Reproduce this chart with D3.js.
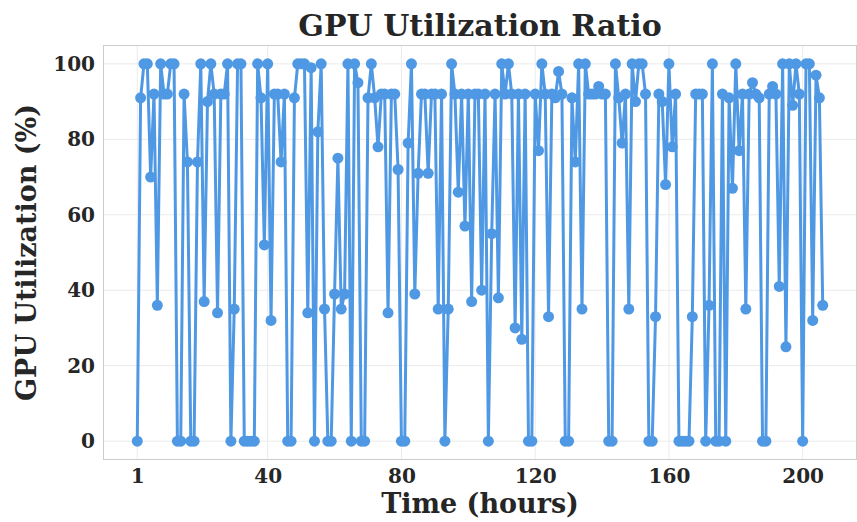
<!DOCTYPE html>
<html>
<head>
<meta charset="utf-8">
<script src="https://cdn.jsdelivr.net/npm/d3@7"></script>
<style>
  body { margin: 0; background: #fff; }
  text { font-family: "DejaVu Serif", serif; font-weight: bold; fill: #262626; }
</style>
</head>
<body>
<div id="chart"></div>
<script>
// hours 1..N, one reading per hour
var utilization = [
  0, 91, 100, 100, 70, 92, 36, 100, 92, 92, 100, 100, 0, 0, 92, 74, 0, 0, 74, 100,
  37, 90, 100, 92, 34, 92, 92, 100, 0, 35, 100, 100, 0, 0, 0, 0, 100, 91, 52, 100,
  32, 92, 92, 74, 92, 0, 0, 91, 100, 100, 100, 34, 99, 0, 82, 100, 35, 0, 0, 39,
  75, 35, 39, 100, 0, 100, 95, 0, 0, 91, 100, 91, 78, 92, 92, 34, 92, 92, 72, 0,
  0, 79, 100, 39, 71, 92, 92, 71, 92, 92, 35, 92, 0, 35, 100, 92, 66, 92, 57, 92,
  37, 92, 92, 40, 92, 0, 55, 92, 38, 100, 92, 100, 92, 30, 92, 27, 92, 0, 0, 92,
  77, 100, 92, 33, 92, 91, 98, 92, 0, 0, 91, 74, 100, 35, 100, 92, 92, 92, 94, 92,
  92, 0, 0, 100, 91, 79, 92, 35, 100, 90, 100, 100, 92, 0, 0, 33, 92, 90, 68, 100,
  78, 92, 0, 0, 0, 0, 33, 92, 92, 92, 0, 36, 100, 0, 0, 92, 0, 91, 67, 100,
  77, 92, 35, 92, 95, 92, 91, 0, 0, 92, 94, 92, 41, 100, 25, 100, 89, 100, 92, 0,
  100, 100, 32, 97, 91, 36
];
var hours = utilization.map(function(d, i) { return i + 1; });
var xTicks = [1, 40, 80, 120, 160, 200];
var yTicks = [0, 20, 40, 60, 80, 100];

var W = 857, H = 522;
var margin = { top: 45, right: 0, bottom: 62, left: 103 };
var x0 = margin.left, x1 = W - margin.right, y0 = H - margin.bottom, y1 = margin.top;

var svg = d3.select("#chart").append("svg")
  .attr("width", W).attr("height", H);

var n = hours.length;
var pad = 0.05 * (n - 1);
var x = d3.scaleLinear().domain([1 - pad, n + pad]).range([x0, x1]);
var y = d3.scaleLinear().domain([-5, 105]).range([y0, y1]);

// grid
svg.append("g").selectAll("line.gx").data(xTicks).enter().append("line")
  .attr("x1", function(d) { return x(d); }).attr("x2", function(d) { return x(d); })
  .attr("y1", y1).attr("y2", y0)
  .attr("stroke", "#ebebeb").attr("stroke-width", 1);
svg.append("g").selectAll("line.gy").data(yTicks).enter().append("line")
  .attr("x1", x0).attr("x2", x1)
  .attr("y1", function(d) { return y(d); }).attr("y2", function(d) { return y(d); })
  .attr("stroke", "#ebebeb").attr("stroke-width", 1);

// frame
svg.append("rect")
  .attr("x", x0 + 0.5).attr("y", y1 + 0.5)
  .attr("width", x1 - x0 - 1).attr("height", y0 - y1 - 1)
  .attr("fill", "none").attr("stroke", "#cccccc").attr("stroke-width", 1);

// axes (no tick marks, just labels)
var xAxis = svg.append("g")
  .attr("transform", "translate(0," + y0 + ")")
  .call(d3.axisBottom(x).tickValues(xTicks).tickSize(0).tickPadding(9));
var yAxis = svg.append("g")
  .attr("transform", "translate(" + x0 + ",0)")
  .call(d3.axisLeft(y).tickValues(yTicks).tickSize(0).tickPadding(8));
[xAxis, yAxis].forEach(function(a) {
  a.select(".domain").remove();
  a.selectAll(".tick line").remove();
  a.selectAll(".tick text").style("font-size", "20px").style("font-family", "DejaVu Serif").style("font-weight", "bold").attr("fill", "#262626");
});

// series
var color = "#4f98e4";
svg.append("path")
  .datum(utilization)
  .attr("fill", "none")
  .attr("stroke", color)
  .attr("stroke-width", 3)
  .attr("stroke-linejoin", "round")
  .attr("d", d3.line()
    .x(function(d, i) { return x(hours[i]); })
    .y(function(d) { return y(d); }));

svg.append("g").selectAll("circle").data(utilization).enter().append("circle")
  .attr("cx", function(d, i) { return x(hours[i]); })
  .attr("cy", function(d) { return y(d); })
  .attr("r", 5.5)
  .attr("fill", color);

// labels
svg.append("text")
  .attr("x", (x0 + x1) / 2).attr("y", 36)
  .attr("text-anchor", "middle")
  .style("font-size", "30px")
  .text("GPU Utilization Ratio");

svg.append("text")
  .attr("x", (x0 + x1) / 2).attr("y", 513)
  .attr("text-anchor", "middle")
  .style("font-size", "27px")
  .text("Time (hours)");

svg.append("text")
  .attr("transform", "translate(36," + ((y0 + y1) / 2) + ") rotate(-90)")
  .attr("text-anchor", "middle")
  .style("font-size", "27px")
  .text("GPU Utilization (%)");
</script>
</body>
</html>
